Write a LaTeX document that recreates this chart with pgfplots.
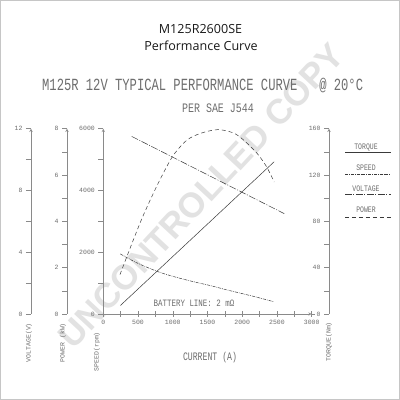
\documentclass[border=0pt]{standalone}
\usepackage{fontspec}
\setmainfont{Open Sans}
\newfontfamily\mono{Liberation Mono}
\newfontfamily\wm{Liberation Sans}
\usepackage{graphicx}
\usepackage{pgfplots}
\pgfplotsset{compat=1.18}
\definecolor{txt}{HTML}{6E6E6E}
\definecolor{axc}{HTML}{8A8A8A}
\definecolor{crv}{HTML}{3A3A3A}
\definecolor{wmc}{HTML}{E2E2E2}
\pgfplotsset{
  common/.style={scale only axis, anchor=south west, height=185.3bp,
    axis line style={-,draw=axc,line width=0.5pt},
    tick style={draw=axc,line width=0.5pt},
    major tick length=5bp, minor tick length=5bp,
    tick label style={font=\mono\fontsize{6.5}{7}\selectfont, text=txt},
    /pgf/number format/assume math mode=true,
    /pgf/number format/1000 sep={},
    scaled y ticks=false, scaled x ticks=false, clip=false},
  aux/.style={common, width=20bp, xmin=0, xmax=1, axis x line=none,
    axis y line=left, xtick=\empty, ytick align=outside},
}
\begin{document}
\begin{tikzpicture}
\useasboundingbox (0,0) rectangle (400bp,400bp);
\fill[white] (0,0) rectangle (400bp,400bp);
\draw[gray!45, line width=1bp] (0.5bp,0.5bp) rectangle (399.5bp,399.5bp);
% watermark
\node[rotate=47, text=wmc, font=\wm\bfseries\fontsize{35}{35}\selectfont] at (201bp,204bp) {UNCONTROLLED COPY};
% titles
\node[font=\fontsize{12.6}{14}\selectfont, text=black!90] at (200.5bp,370.5bp) {M125R2600SE};
\node[font=\fontsize{12.6}{14}\selectfont, text=black!90] at (201bp,354bp) {Performance Curve};
\node[anchor=west, text=txt, inner sep=0pt] at (42bp,314bp) {\scalebox{1}[1.4]{\mono\fontsize{12.2}{14}\selectfont M125R 12V TYPICAL PERFORMANCE CURVE\ \ \ @ 20°C}};
\node[text=txt, inner sep=0pt] at (218bp,292bp) {\scalebox{1}[1.3]{\mono\fontsize{10}{12}\selectfont PER SAE J544}};
% voltage axis
\begin{axis}[aux, at={(31bp,86bp)}, ymin=0, ymax=12, ytick={0,4,8,12}, minor ytick={2,6,10}]
\addplot[draw=none] coordinates {(0,0)};
\end{axis}
% power axis
\begin{axis}[aux, at={(67bp,86bp)}, ymin=0, ymax=8, ytick={0,2,4,6,8}, minor ytick={1,3,5,7}]
\addplot[draw=none] coordinates {(0,0)};
\end{axis}
% torque axis
\begin{axis}[aux, at={(329bp,86bp)}, ymin=0, ymax=160, ytick={0,40,80,120,160}, minor ytick={20,60,100,140}]
\addplot[draw=none] coordinates {(0,0)};
\end{axis}
% main axis (current vs speed)
\begin{axis}[common, at={(103.3bp,86bp)}, width=208.4bp,
  xmin=0, xmax=3000, ymin=0, ymax=6000,
  axis x line=bottom, axis y line=left,
  xtick={0,500,...,3000}, minor xtick={250,750,...,2750},
  ytick={0,2000,4000,6000}, minor ytick={1000,3000,5000},
  xtick align=center, ytick align=outside]
% torque (Nm), scale 160 -> 6000
\addplot[crv, line width=0.5pt, y filter/.expression={37.5*y}] coordinates {(245,7.3) (2460,131.5)};
% speed (rpm)
\addplot[crv, line width=0.5pt, smooth, dash pattern=on 3pt off 1pt on 0.8pt off 1pt] coordinates {
(245,1945) (480,1660) (770,1385) (1000,1220) (1300,1045) (1550,915) (1780,780) (2000,660) (2200,550) (2450,400)};
% voltage (V), scale 12 -> 6000
\addplot[crv, line width=0.5pt, y filter/.expression={500*y}, dash pattern=on 7pt off 1.5pt on 1pt off 1.5pt] coordinates {(410,11.5) (2605,6.5)};
% power (kW), scale 8 -> 6000
\addplot[crv, line width=0.5pt, smooth, y filter/.expression={750*y}, dash pattern=on 4pt off 3pt] coordinates {
(240,1.7) (400,2.95) (553,4.1) (700,5.08) (850,6.0) (1008,6.85) (1200,7.5) (1400,7.8) (1650,7.96) (1870,7.82) (2016,7.52) (2210,6.95) (2350,6.36) (2460,5.7)};
\end{axis}
\draw[axc, line width=0.5pt] (311.7bp,86bp) -- (315bp,86bp);
% axis titles
\node[rotate=90, anchor=east, text=txt, inner sep=0pt] at (29bp,77bp) {\mono\fontsize{6.5}{7}\selectfont VOLTAGE(V)};
\node[rotate=90, anchor=east, text=txt, inner sep=0pt] at (63bp,77bp) {\mono\fontsize{6.5}{7}\selectfont POWER (kW)};
\node[rotate=90, anchor=east, text=txt, inner sep=0pt] at (97bp,68bp) {\mono\fontsize{6.5}{7}\selectfont SPEED(rpm)};
\node[rotate=90, anchor=east, text=txt, inner sep=0pt] at (329bp,78bp) {\mono\fontsize{6.5}{7}\selectfont TORQUE(Nm)};
\node[text=txt, inner sep=0pt] at (210bp,42bp) {\scalebox{1}[1.4]{\mono\fontsize{8.2}{10}\selectfont CURRENT (A)}};
\node[text=txt, inner sep=0pt] at (194bp,97bp) {\scalebox{1}[1.3]{\mono\fontsize{7.5}{9}\selectfont BATTERY LINE: 2 mΩ}};
% legend
\node[text=txt, inner sep=0pt] at (366bp,252.5bp) {\scalebox{1}[1.3]{\mono\fontsize{6.5}{7}\selectfont TORQUE}};
\draw[crv, line width=0.5pt] (345bp,248bp) -- (391bp,248bp);
\node[text=txt, inner sep=0pt] at (366bp,232bp) {\scalebox{1}[1.3]{\mono\fontsize{6.5}{7}\selectfont SPEED}};
\draw[crv, line width=0.5pt, dash pattern=on 3pt off 1pt on 0.8pt off 1pt] (345bp,226bp) -- (391bp,226bp);
\node[text=txt, inner sep=0pt] at (366bp,211bp) {\scalebox{1}[1.3]{\mono\fontsize{6.5}{7}\selectfont VOLTAGE}};
\draw[crv, line width=0.5pt, dash pattern=on 7pt off 1.5pt on 1pt off 1.5pt] (345bp,206bp) -- (391bp,206bp);
\node[text=txt, inner sep=0pt] at (366bp,190bp) {\scalebox{1}[1.3]{\mono\fontsize{6.5}{7}\selectfont POWER}};
\draw[crv, line width=0.5pt, dash pattern=on 4pt off 3pt] (345bp,183bp) -- (391bp,183bp);
\end{tikzpicture}
\end{document}
